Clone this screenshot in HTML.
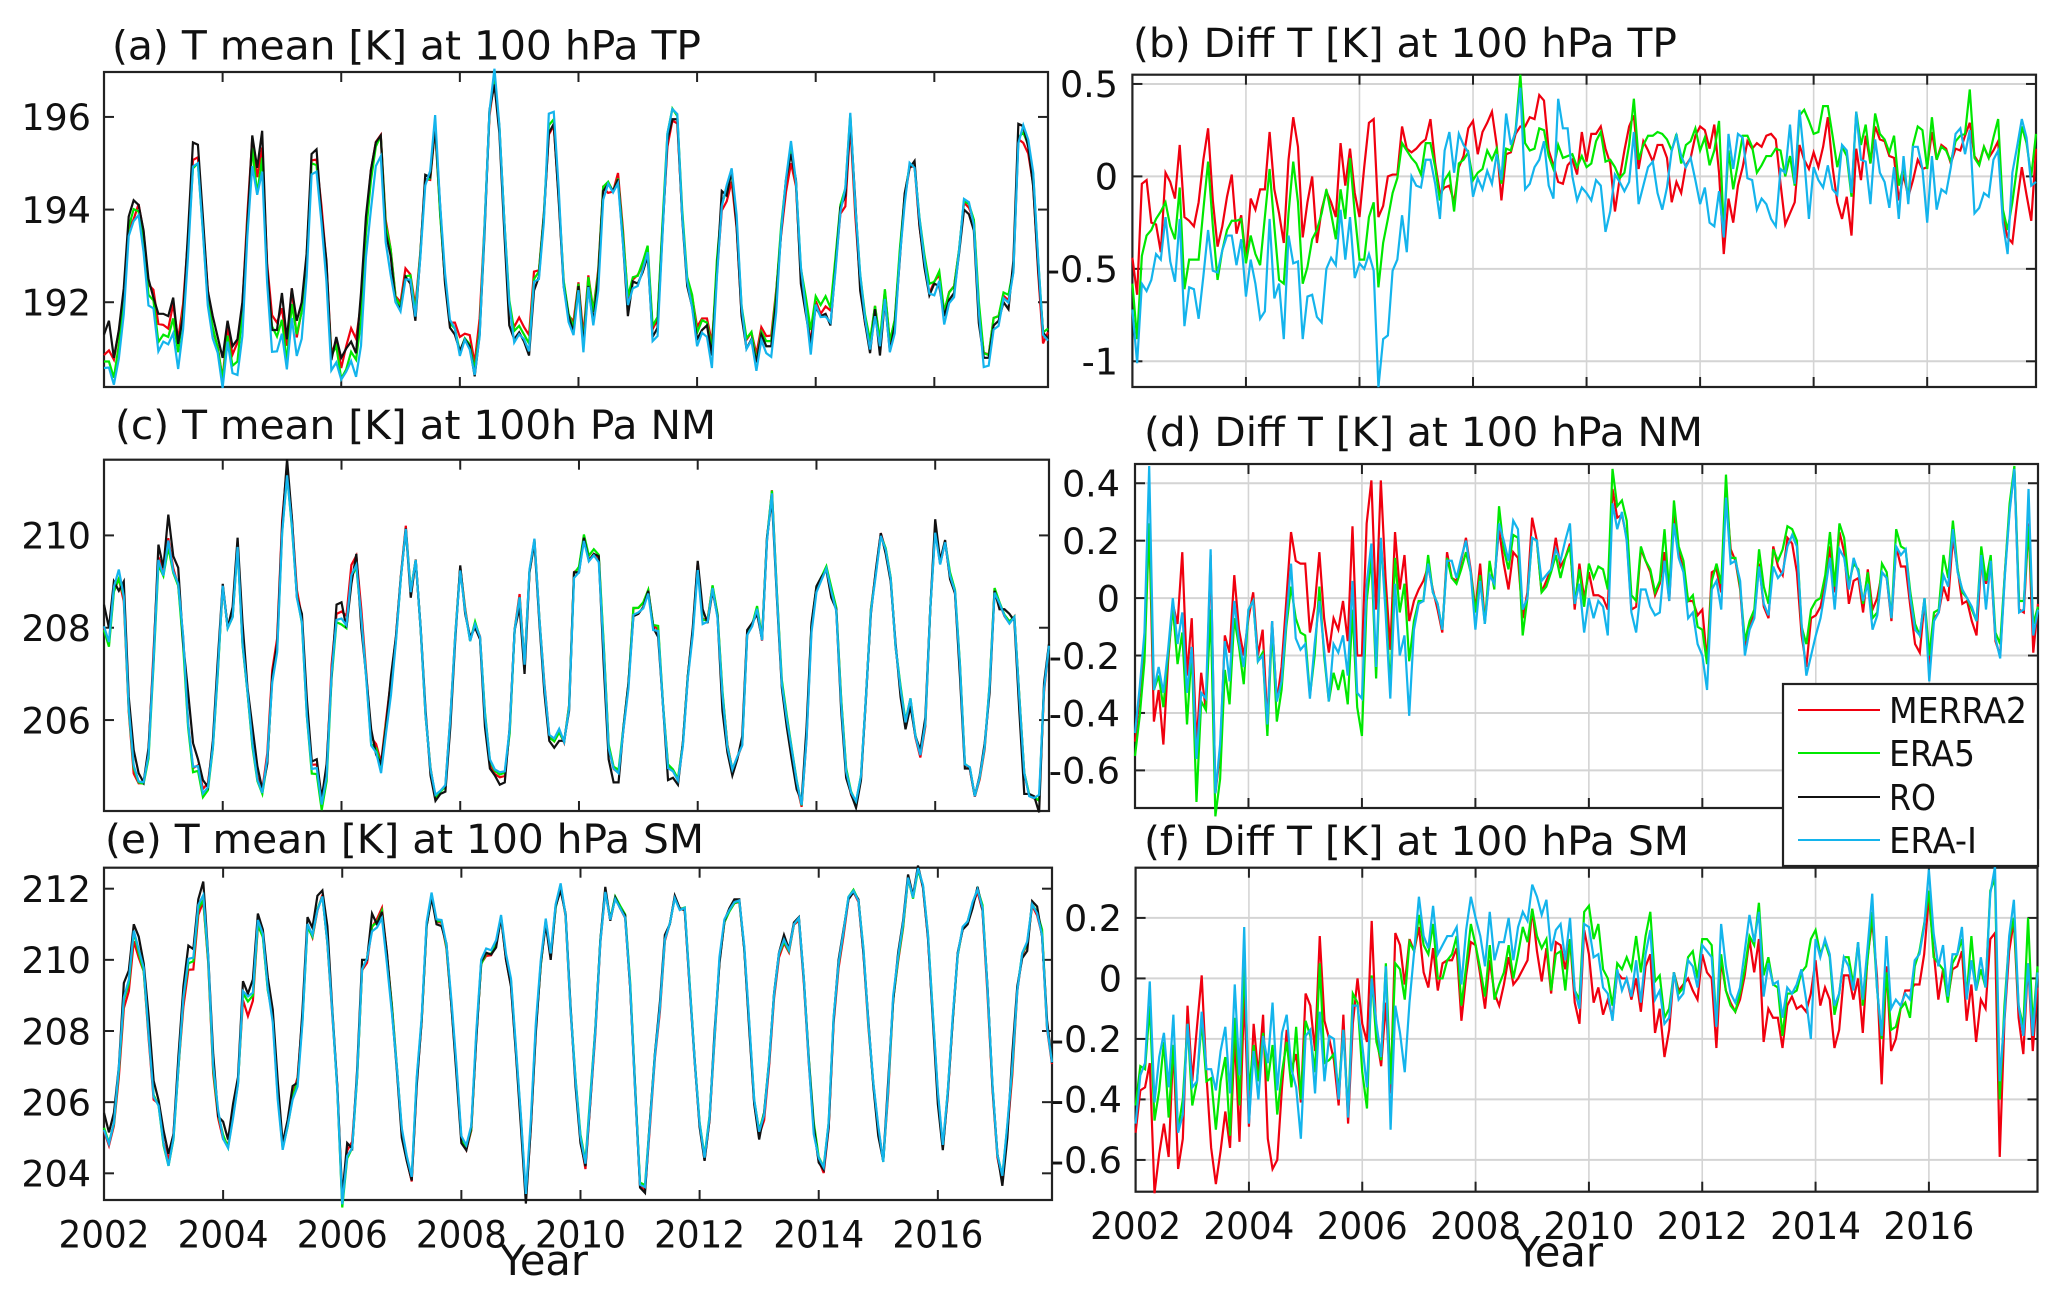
<!DOCTYPE html>
<html lang="en">
<head>
<meta charset="utf-8">
<title>T mean and Diff T at 100 hPa</title>
<style>
html,body{margin:0;padding:0;background:#fff;}
svg{display:block;font-family:"DejaVu Sans","Liberation Sans",sans-serif;fill:#111;}
</style>
</head>
<body>
<svg id="chart" width="2067" height="1300" viewBox="0 0 2067 1300" xmlns="http://www.w3.org/2000/svg"></svg>
<script>
// Data: one row per year, Jan 2002 - Dec 2017.
const tickYears=[2002,2004,2006,2008,2010,2012,2014,2016];
const seriesNames=['MERRA2','ERA5','RO','ERA-I'];

// Panels (a), (c), (e): RO monthly mean temperature [K]
const roTP=[191.3,191.6,190.8,191.4,192.3,193.85,194.2,194.1,193.55,192.5,192.1,191.75,
191.75,191.7,192.1,191.1,191.7,193.5,195.45,195.4,193.85,192.25,191.7,191.25,
190.8,191.6,191.05,191.2,192,193.65,195.6,194.9,195.7,192.75,191.4,191.4,
192.2,191.2,192.3,191.6,192,193.05,195.2,195.3,193.9,192.9,190.75,191.25,
190.8,191,191.15,190.9,192.2,193.85,194.85,195.45,195.6,193.5,193,192,
191.85,192.55,192.4,191.6,193,194.75,194.7,195.8,194.1,192.4,191.45,191.3,
190.95,191.2,191.05,190.4,191.3,193.5,196.15,196.7,195.65,193.5,191.5,191.2,
191.35,191.15,190.85,192.25,192.55,193.85,195.65,195.85,194.2,192.35,191.7,191.35,
192.35,191.05,192.35,191.55,192.55,194.4,194.55,194.4,194.65,193.3,191.7,192.45,
192.4,192.65,193,191.25,191.45,193.5,195.5,195.95,195.95,193.8,192.35,191.9,
191.2,191.4,191.5,190.85,192.6,194.4,194.3,194.85,193.65,191.7,191,191.2,
190.7,191.3,191.05,191.05,192.05,193.5,194.65,195.2,194.65,192.4,191.75,191.1,
191.9,191.7,191.75,191.5,192.75,194.05,194.3,195.95,194.2,192.25,191.55,190.9,
191.85,190.85,192.05,190.95,191.5,192.9,194.35,194.9,195.05,193.65,192.75,192.15,
192.4,192.35,191.7,192.05,192.2,193.05,194,193.9,193.55,191.55,190.8,190.8,
191.5,191.6,192,191.85,192.9,195.85,195.8,195.35,194.5,192.75,191.35,191.2];

const roNM=[208.5,208,209,208.8,209,206.5,205.35,204.85,204.65,205.4,207.3,209.8,
209.3,210.45,209.55,209.3,207.65,206.6,205.5,205.15,204.7,204.55,205.55,207.3,
208.95,208,208.45,209.95,208.1,206.7,205.85,205,204.5,205.05,206.95,207.65,
210.2,211.65,210.35,208.65,208.3,206.45,205.1,205.15,204.3,205.05,206.95,208.5,
208.55,208,208.95,209.6,208,206.95,205.8,205.25,205.05,205.85,206.95,207.8,
209.1,210.15,208.65,209.45,208,206.2,204.8,204.25,204.4,204.45,205.85,207.75,
209.35,208.3,207.8,208,207.75,205.85,204.95,204.8,204.6,204.65,205.85,207.95,
208.45,207,209.2,209.85,208.1,206.6,205.55,205.4,205.55,205.55,206.2,209.2,
209.2,209.95,209.45,209.6,209.55,207.2,205.15,204.65,204.65,205.85,206.8,208.25,
208.3,208.45,208.8,208,207.8,206.3,204.7,204.75,204.6,205.5,206.95,208,
209.45,208.4,208.1,208.8,208.25,206.2,205.3,204.8,205.15,205.65,207.95,208.1,
208.3,207.75,209.95,210.8,208.65,206.7,205.85,205.15,204.5,204.25,205.85,208.1,
208.9,209.1,209.25,208.65,208.4,206.2,204.75,204.4,204.1,204.7,206.5,208.3,
209.25,210.05,209.6,209,207.65,206.5,205.8,206.3,205.65,205.35,206.05,208.4,
210.35,209.45,209.9,209.05,208.75,206.95,204.95,204.95,204.35,204.8,205.5,206.6,
208.8,208.4,208.4,208.3,208.15,206.2,204.4,204.4,204.35,204,206.8,207.65];

const roSM=[205.7,205.15,205.7,207,209.35,209.7,211,210.65,209.9,208.4,206.6,206.05,
205.2,204.55,205.1,207.3,209.25,210.4,210.3,211.7,212.2,210.1,207.35,205.6,
205.45,204.95,205.95,206.7,209.4,209.05,209.45,211.3,210.85,209.5,208.6,206.6,
204.85,205.5,206.45,206.55,208.6,211.2,210.9,211.8,211.95,210.95,208.6,206.45,
203.35,204.85,204.7,206.9,210,210,211.3,211,211.35,210.2,208.6,206.9,
205,204.35,203.8,206.45,208.3,210.95,211.75,211,210.95,210.45,208.7,206.8,
204.85,204.65,205.3,207.75,209.95,210.2,210.15,210.35,211.2,210,209.25,207.35,
205.3,203.15,205.3,207.95,209.9,211,210,211.5,211.95,211.3,208.7,206.45,
204.85,204.2,206.05,208.05,210.55,212.05,211.1,211.75,211.45,211.25,209.25,206.45,
203.6,203.45,205.5,207.35,208.8,210.7,211,211.8,211.45,211.4,209.25,207.2,
205.3,204.35,205.5,207.95,209.9,211.1,211.45,211.7,211.7,210.3,208.05,205.95,
204.95,205.7,207.1,209.05,210.2,210.7,210.3,211.05,211.2,209.45,207.2,205.3,
204.3,204.1,205.3,208.3,210,210.85,211.7,211.9,211.7,210.2,208.3,206.45,
205.05,204.35,206.6,208.85,210.2,211.1,212.4,211.8,212.65,212.05,210.65,208.3,
205.95,204.65,206.25,208.3,210.2,210.85,211,211.45,212.05,211.4,209.25,206.45,
204.55,203.65,205,207.35,209.25,210.05,210.25,211.65,211.5,210.65,208.3,207.1];

// Panels (b), (d), (f): reanalysis minus RO [K]. The reanalysis lines in (a), (c), (e) are RO + these differences.
const merra2DiffTP=[-.44,-.64,-.04,-.02,-.25,-.26,-.41,.02,-.03,-.12,.17,-.22,
-.24,-.27,-.14,.09,.26,-.13,-.38,-.27,-.11,.01,-.31,-.21,
-.45,-.12,-.18,-.07,-.07,.24,-.07,-.2,-.36,.09,.32,.16,
-.33,-.14,0,-.36,-.18,-.08,-.14,-.22,.18,-.05,.15,-.09,
-.22,.05,.29,.31,-.22,-.16,0,.01,.01,.27,.15,.13,
.15,.18,.2,.31,.07,-.09,-.06,-.05,-.14,.05,.11,.26,
.3,.12,.24,.29,.35,.17,-.13,.12,.13,.23,.27,.27,
.32,.31,.44,.41,.14,.06,-.03,-.04,.06,.09,.01,.24,
.08,.23,.23,.27,.15,.07,-.19,-.01,.14,.27,.33,.04,
.19,.14,.08,.17,.17,.1,-.14,-.03,-.09,.06,.1,.22,
.27,.25,.15,.28,.02,-.42,-.12,-.25,-.05,.05,.19,.15,
.18,.16,.22,.23,.2,-.04,-.26,-.2,-.14,.17,.09,.04,
.13,.05,.16,.32,.05,-.14,-.23,-.11,-.32,.15,-.02,.22,
.07,.27,.2,.19,.11,.1,-.13,.01,-.11,-.02,.09,.04,
.05,.24,.09,.17,.15,.07,.15,.14,.22,.29,.11,.07,
.16,.1,.14,.19,-.23,-.33,-.36,-.14,.05,-.1,-.24,.15];

const era5DiffTP=[-.58,-.88,-.43,-.32,-.29,-.23,-.19,-.14,-.27,-.34,-.06,-.61,
-.45,-.45,-.45,-.18,.08,-.27,-.56,-.4,-.29,-.24,-.24,-.23,
-.47,-.32,-.42,-.48,-.22,.04,-.27,-.56,-.58,-.2,.08,-.14,
-.58,-.49,-.34,-.29,-.2,-.07,-.2,-.34,-.07,-.23,.1,-.2,
-.45,-.45,-.22,-.14,-.6,-.36,-.23,-.09,-.01,.18,.14,.1,
.07,.01,.18,.18,.05,-.13,-.02,.02,-.19,.07,.09,.13,
-.02,.02,.04,.14,.09,.15,-.04,.15,.14,.25,.55,.18,
.14,.15,.26,.25,.11,.04,.17,.1,.11,.12,.05,.11,
.05,.07,.19,.24,.08,.09,.05,-.01,.02,.17,.42,.09,
.17,.22,.22,.24,.23,.2,.14,.23,.07,.17,.19,.26,
.14,.21,.06,.14,.3,-.29,.14,-.07,.07,.22,.22,.16,
.02,.06,.11,.11,.15,.14,0,.11,-.05,.33,.36,.3,
.23,.24,.38,.38,.22,.05,.16,.11,-.11,.35,.17,.28,
.07,.34,.23,.2,.13,.22,-.05,.05,-.12,.17,.27,.25,
.04,.32,.09,.16,.14,.08,.19,.22,.23,.47,.1,.06,
.16,.1,.21,.31,-.18,-.29,-.14,.05,.27,.18,0,.23];

const eraIDiffTP=[-.72,-1.01,-.58,-.62,-.56,-.42,-.45,-.22,-.46,-.57,-.23,-.81,
-.6,-.61,-.77,-.54,-.29,-.51,-.52,-.4,-.32,-.32,-.48,-.34,
-.65,-.45,-.58,-.77,-.73,-.23,-.66,-.58,-.88,-.32,-.47,-.46,
-.88,-.65,-.64,-.76,-.79,-.5,-.44,-.48,-.18,-.45,-.22,-.55,
-.47,-.5,-.42,-.51,-1.14,-.88,-.86,-.51,-.45,-.21,-.41,0,
-.05,-.06,.09,.09,-.04,-.23,.14,.24,.02,.23,.17,.13,
-.11,-.01,-.07,.03,-.04,.12,-.02,.34,.17,.24,.48,-.07,
-.04,.05,.09,.19,-.05,-.12,.42,.26,.26,0,-.13,-.06,
-.09,-.13,-.02,-.05,-.3,-.19,.01,-.03,-.08,-.03,.24,-.15,
-.05,.05,.08,-.09,-.18,-.06,.14,.22,.11,.05,.1,-.02,
-.15,-.06,-.25,-.27,-.08,-.33,.23,.04,.23,.21,-.01,-.02,
-.18,-.12,-.15,-.23,-.27,.04,.02,.28,-.04,.36,.1,-.23,
.05,-.02,-.06,.06,-.07,-.1,.17,.14,-.09,.35,.09,.08,
-.15,.2,.02,-.03,-.17,.05,-.23,.11,-.15,.16,.16,.04,
-.25,.11,-.18,-.07,-.09,.05,.23,.26,.12,.25,-.2,-.17,
-.09,-.11,.09,.14,-.25,-.42,.02,.16,.31,.21,-.05,-.03];

const merra2DiffNM=[-.5,-.33,-.17,.26,-.43,-.32,-.51,-.22,-.02,-.09,.16,-.27,
-.07,-.51,-.26,-.39,.15,-.68,-.54,-.13,-.19,.08,-.11,-.2,
-.07,.02,-.2,-.11,-.43,-.08,-.36,-.24,-.01,.23,.13,.12,
.12,-.12,-.03,.16,-.07,-.19,-.07,-.11,-.01,-.15,.25,-.2,
-.2,.26,.41,-.04,.41,.07,-.18,.23,.03,.15,-.08,-.01,
.03,.06,.11,.03,-.04,-.12,.16,.07,.06,.13,.21,.1,
-.04,.12,-.08,.08,.06,.24,.12,.03,.16,.14,-.07,.02,
.28,.2,.02,.06,.1,.21,.11,.14,.19,-.04,.12,0,
.09,.01,.01,0,-.04,.38,.28,.29,.21,-.04,-.03,.17,
.13,.09,.01,.05,.16,-.01,.3,.16,.1,-.01,-.01,-.06,
-.04,-.22,.09,.1,.02,.37,.17,.13,.03,-.18,-.09,-.06,
.12,-.03,-.07,.18,.11,.08,.21,.19,.09,-.13,-.24,-.07,
-.06,-.03,.05,.18,.02,.23,.16,-.02,.06,.07,-.05,.1,
-.04,0,.09,.07,-.08,.18,.11,.11,-.03,-.16,-.19,-.01,
-.24,-.07,-.05,.04,-.01,.21,.1,-.02,-.01,-.08,-.13,.13,
.05,.13,-.15,-.2,.09,.31,.45,-.04,-.05,.26,-.19,-.02];

const era5DiffNM=[-.55,-.41,-.22,.26,-.32,-.27,-.38,-.2,-.03,-.23,-.12,-.44,
-.18,-.71,-.36,-.39,-.04,-.76,-.63,-.25,-.37,-.07,-.17,-.3,
-.04,-.01,-.22,-.19,-.48,-.1,-.43,-.32,-.1,.04,-.07,-.12,
-.13,-.34,-.2,.04,-.2,-.36,-.26,-.32,-.25,-.37,-.04,-.38,
-.48,-.01,.14,-.28,.19,-.01,-.32,.14,-.05,.05,-.22,-.08,
-.01,-.01,.15,.02,-.02,-.11,.14,.07,.05,.1,.16,.09,
-.05,.08,-.09,.13,.03,.32,.17,.1,.22,.21,-.13,0,
.21,.2,.02,.04,.09,.15,.07,.14,.18,-.02,.1,-.03,
.12,.07,.11,.1,.03,.45,.32,.34,.27,.01,-.01,.18,
.13,.1,.02,.06,.24,.02,.34,.18,.13,-.01,.01,-.1,
-.11,-.23,.06,.12,.05,.43,.14,.14,.04,-.15,-.08,-.04,
.17,.04,-.02,.17,.13,.17,.25,.24,.2,-.1,-.16,-.04,
-.01,0,.08,.23,.04,.26,.21,.05,.12,.1,-.02,.09,
-.07,-.05,.12,.09,-.07,.24,.18,.17,.02,-.09,-.13,0,
-.2,-.05,-.04,.15,.07,.27,.1,.02,0,-.04,-.08,.18,
.06,.15,-.12,-.16,.09,.33,.46,-.01,-.01,.25,-.09,-.03];

const eraIDiffNM=[-.47,-.31,-.12,.46,-.32,-.24,-.33,-.18,0,-.16,-.05,-.33,
-.17,-.56,-.33,-.35,.17,-.68,-.51,-.15,-.29,-.01,-.15,-.24,
-.04,-.01,-.22,-.2,-.44,-.08,-.36,-.29,-.08,.12,-.14,-.18,
-.16,-.35,-.16,-.01,-.18,-.36,-.16,-.19,-.13,-.27,.06,-.33,
-.35,.05,.19,-.24,.21,-.05,-.35,.05,-.2,-.13,-.41,-.11,
-.02,-.01,.12,.02,-.02,-.11,.13,.13,.07,.14,.2,.09,
-.11,.06,-.09,.08,.05,.26,.2,.13,.27,.24,-.04,0,
.21,.2,.06,.08,.1,.17,.13,.2,.26,-.02,.05,-.12,
0,-.07,-.01,-.03,-.13,.33,.24,.3,.2,-.05,-.12,.03,
.03,-.03,-.06,-.05,.13,-.01,.26,.14,.09,-.07,-.05,-.16,
-.2,-.32,.03,.06,-.04,.35,.12,.13,.06,-.2,-.11,-.07,
.11,-.02,-.06,.11,.07,.09,.18,.22,.18,-.09,-.27,-.2,
-.13,-.07,.03,.14,-.04,.17,.14,.03,.14,.09,-.01,.05,
-.11,-.06,.09,.07,-.07,.18,.15,.17,0,-.11,-.13,0,
-.29,-.08,-.05,.08,.04,.24,.09,.03,0,-.03,-.08,.15,
-.04,.13,-.14,-.21,.08,.3,.45,-.05,-.04,.38,-.13,-.04];

const merra2DiffSM=[-.51,-.37,-.36,-.28,-.71,-.58,-.48,-.59,-.22,-.63,-.53,-.09,
-.34,-.16,.01,-.32,-.56,-.68,-.57,-.44,-.56,-.19,-.54,-.05,
-.49,-.15,-.32,-.12,-.53,-.63,-.6,-.36,-.17,-.3,-.25,-.41,
-.05,-.09,-.24,.14,-.14,-.2,-.27,-.42,-.12,-.48,-.15,0,
-.15,-.21,.19,-.19,-.29,-.08,-.38,.15,.11,-.02,.13,.09,
.17,.02,-.03,.1,-.04,.05,.06,.06,.1,-.14,.01,.12,
.11,.01,-.1,.06,-.05,-.09,-.02,.07,-.02,0,.03,.06,
.23,.09,-.01,.1,-.05,.12,.11,.03,.13,-.08,-.15,.16,
.08,-.08,-.03,-.12,-.07,-.13,.02,0,0,-.07,0,-.11,
.04,.08,-.18,-.1,-.26,-.17,.02,-.04,-.02,0,-.04,-.07,
.08,.02,0,-.23,.06,-.04,-.08,-.11,-.07,.01,.13,.02,
.13,-.21,-.1,-.13,-.13,-.23,-.09,-.06,-.1,-.09,-.11,-.05,
.06,-.09,-.03,-.07,-.23,-.17,.01,.01,-.07,0,-.18,.07,
.19,.01,-.35,.04,-.24,-.2,-.1,-.04,-.04,-.02,-.02,.08,
.27,.09,-.07,.03,-.07,.03,.04,.09,-.14,-.02,-.21,-.07,
-.1,.13,.15,-.59,-.14,.09,.19,-.13,-.25,.05,-.24,-.03];

const era5DiffSM=[-.42,-.29,-.3,-.09,-.47,-.37,-.21,-.46,-.22,-.5,-.4,-.15,
-.42,-.34,-.14,-.34,-.33,-.5,-.34,-.26,-.52,-.13,-.42,.05,
-.37,-.22,-.34,-.18,-.34,-.22,-.45,-.31,-.21,-.36,-.16,-.4,
-.14,-.19,-.31,.05,-.28,-.27,-.25,-.37,-.17,-.45,-.05,-.08,
-.31,-.43,.01,-.21,-.27,.05,-.35,.05,.03,-.07,.12,.09,
.21,.11,.08,.18,0,0,.06,.08,.14,-.09,.04,.18,
.11,.03,-.06,.11,-.07,-.02,.02,.11,0,.08,.17,.12,
.23,.14,.1,.13,-.04,.08,.09,-.04,.13,-.04,-.07,.22,
.24,.13,.18,.03,0,-.09,.05,.03,.07,.03,.14,.02,
.14,.22,-.01,.01,-.13,-.1,.02,-.05,-.03,.07,.09,0,
.13,.13,.11,-.15,.08,-.04,-.09,-.11,-.05,.03,.14,.11,
.25,.01,.07,-.02,-.03,-.19,-.05,-.05,-.04,.02,.04,.13,
.16,.08,.12,.07,-.12,-.05,.07,.07,-.02,.12,-.09,.06,
.22,-.03,-.2,.02,-.17,-.16,-.1,-.08,-.13,.04,.09,.18,
.29,.07,.05,.03,-.08,.05,.08,.13,-.06,.14,-.04,.03,
-.03,.29,.33,-.4,-.09,.13,.2,-.09,-.16,.2,-.16,.04];

const eraIDiffSM=[-.48,-.32,-.28,-.01,-.41,-.26,-.18,-.36,-.12,-.51,-.45,-.15,
-.36,-.34,-.11,-.3,-.3,-.37,-.24,-.16,-.38,-.02,-.32,.17,
-.48,-.24,-.4,-.19,-.28,-.08,-.37,-.18,-.12,-.3,-.36,-.53,
-.19,-.17,-.38,-.11,-.34,-.19,-.2,-.4,-.17,-.46,-.09,-.09,
-.22,-.36,0,-.15,-.26,.04,-.5,-.09,-.18,-.31,-.08,.09,
.27,.14,.1,.24,.08,.11,.14,.14,.17,-.02,.16,.27,
.2,.14,.04,.22,.06,.12,.12,.2,.06,.17,.22,.19,
.31,.27,.21,.26,.09,.16,.18,.06,.2,-.04,-.1,.18,
.17,.07,.08,-.03,-.05,-.14,.03,-.04,0,-.06,.06,-.08,
.08,.16,-.07,-.04,-.15,-.13,.02,-.07,-.05,.06,.04,-.03,
.11,.09,.07,-.16,.18,.04,-.05,-.08,-.03,.09,.21,.12,
.22,-.06,.05,-.02,-.01,-.13,-.03,-.05,-.02,.03,-.07,-.2,
.13,.07,.13,.08,-.09,-.05,.07,.04,-.04,.12,-.07,.1,
.28,-.03,-.19,.14,-.1,-.07,-.09,-.05,-.07,.06,.08,.17,
.36,.15,.04,.11,-.06,.08,.08,.17,-.07,.06,-.04,.07,
-.03,.28,.37,-.34,-.13,.14,.26,-.09,-.19,.05,-.19,.02];

// Y tick values and printed labels
const yTicksTP=[192,194,196];
const yLabelsTP=['192','194','196'];
const yTicksNM=[206,208,210];
const yLabelsNM=['206','208','210'];
const yTicksSM=[204,206,208,210,212];
const yLabelsSM=['204','206','208','210','212'];
const yTicksDiffTP=[-1,-.5,0,.5];
const yLabelsDiffTP=['-1','-0.5','0','0.5'];
const yTicksDiffNM=[-.6,-.4,-.2,0,.2,.4];
const yLabelsDiffNM=['-0.6','-0.4','-0.2','0','0.2','0.4'];
const yTicksDiffSM=[-.6,-.4,-.2,0,.2];
const yLabelsDiffSM=['-0.6','-0.4','-0.2','0','0.2'];

// Layout and styling
const NS='http://www.w3.org/2000/svg';
const svg=document.getElementById('chart');
const COLORS={MERRA2:'#f0000f','ERA5':'#00e800','RO':'#111111','ERA-I':'#14b4ec'};
const X_END=2002+191/12;

function add(parent,tag){
  const el=document.createElementNS(NS,tag);
  parent.appendChild(el);
  return el;
}
function plus(a,b){
  return a.map(function(v,i){return v+b[i];});
}
function linear(d0,d1,r0,r1){
  return function(v){return r0+(v-d0)*(r1-r0)/(d1-d0);};
}
function pathFrom(values,xs,ys){
  return values.map(function(v,i){
    return (i?'L':'M')+xs(2002+i/12).toFixed(2)+' '+ys(v).toFixed(2);
  }).join('');
}

const panels=[
 {id:'a',title:'(a) T mean [K] at 100 hPa TP',tx:112,tw:589,ty:59.5,l:104,r:1048,t:72,b:387,y0:190.17,y1:196.97,ticks:yTicksTP,labels:yLabelsTP,labelX:91,
  series:[['MERRA2',plus(roTP,merra2DiffTP)],['ERA5',plus(roTP,era5DiffTP)],['RO',roTP],['ERA-I',plus(roTP,eraIDiffTP)]]},
 {id:'b',title:'(b) Diff T [K] at 100 hPa TP',tx:1133,tw:544,ty:57,l:1132.4,r:2036,t:74.7,b:387,y0:-1.139,y1:.55,ticks:yTicksDiffTP,labels:yLabelsDiffTP,labelX:1118,grid:true,
  series:[['MERRA2',merra2DiffTP],['ERA5',era5DiffTP],['ERA-I',eraIDiffTP]]},
 {id:'c',title:'(c) T mean [K] at 100h Pa NM',tx:115,tw:601,ty:439,l:104,r:1049,t:459.7,b:811,y0:204.03,y1:211.64,ticks:yTicksNM,labels:yLabelsNM,labelX:91,
  series:[['MERRA2',plus(roNM,merra2DiffNM)],['ERA5',plus(roNM,era5DiffNM)],['RO',roNM],['ERA-I',plus(roNM,eraIDiffNM)]]},
 {id:'d',title:'(d) Diff T [K] at 100 hPa NM',tx:1144,tw:559,ty:446,l:1135,r:2038,t:464,b:808,y0:-.731,y1:.467,ticks:yTicksDiffNM,labels:yLabelsDiffNM,labelX:1120,grid:true,
  series:[['MERRA2',merra2DiffNM],['ERA5',era5DiffNM],['ERA-I',eraIDiffNM]]},
 {id:'e',title:'(e) T mean [K] at 100 hPa SM',tx:105,tw:599,ty:853,l:104,r:1052,t:867.7,b:1200,y0:203.25,y1:212.59,ticks:yTicksSM,labels:yLabelsSM,labelX:91,xLabels:1247.7,yearX:544,yearY:1275,
  series:[['MERRA2',plus(roSM,merra2DiffSM)],['ERA5',plus(roSM,era5DiffSM)],['RO',roSM],['ERA-I',plus(roSM,eraIDiffSM)]]},
 {id:'f',title:'(f) Diff T [K] at 100 hPa SM',tx:1144,tw:545,ty:855,l:1135.6,r:2037.5,t:867.7,b:1191.7,y0:-.705,y1:.366,ticks:yTicksDiffSM,labels:yLabelsDiffSM,labelX:1122,grid:true,xLabels:1239,yearX:1559,yearY:1266.7,
  series:[['MERRA2',merra2DiffSM],['ERA5',era5DiffSM],['ERA-I',eraIDiffSM]]}
];

function line(parent,x1,y1,x2,y2,color,width){
  const el=add(parent,'line');
  el.setAttribute('x1',x1);
  el.setAttribute('y1',y1);
  el.setAttribute('x2',x2);
  el.setAttribute('y2',y2);
  el.setAttribute('stroke',color);
  el.setAttribute('stroke-width',width);
  return el;
}

panels.forEach(function(p){
  const xs=linear(2002,X_END,p.l,p.r);
  const ys=linear(p.y0,p.y1,p.b,p.t);

  const g=add(svg,'g');
  
  

  const title=add(g,'text');
  
  
  title.setAttribute('x',p.tx);
  title.setAttribute('y',p.ty);
  title.setAttribute('font-size','40');
  title.setAttribute('textLength',p.tw);
  title.setAttribute('lengthAdjust','spacingAndGlyphs');
  title.textContent=p.title;

  if(p.grid){
    tickYears.forEach(function(yr){
      if(yr===2002)return;
      const gl=line(g,xs(yr),p.t,xs(yr),p.b,'#d4d4d4',1.6);
      
      
    });
    p.ticks.forEach(function(v){
      const gl=line(g,p.l,ys(v),p.r,ys(v),'#d4d4d4',2);
      
      
    });
  }

  const box=add(g,'rect');
  
  
  box.setAttribute('x',p.l);
  box.setAttribute('y',p.t);
  box.setAttribute('width',p.r-p.l);
  box.setAttribute('height',p.b-p.t);
  box.setAttribute('fill','none');
  box.setAttribute('stroke','#222');
  box.setAttribute('stroke-width','2.2');

  tickYears.forEach(function(yr){
    if(yr===2002)return;
    const tb=line(g,xs(yr),p.b,xs(yr),p.b-10,'#222',2);
    
    
    const tt=line(g,xs(yr),p.t,xs(yr),p.t+10,'#222',2);
    
    
  });

  p.ticks.forEach(function(v,i){
    const tl=line(g,p.l,ys(v),p.l+10,ys(v),'#222',2);
    
    
    const tr=line(g,p.r,ys(v),p.r-10,ys(v),'#222',2);
    
    
    const lab=add(g,'text');
    
    
    lab.setAttribute('x',p.labelX);
    lab.setAttribute('y',ys(v)+13.3);
    lab.setAttribute('font-size','36.5');
    lab.setAttribute('text-anchor','end');
    lab.textContent=p.labels[i];
  });

  p.series.forEach(function(s){
    const path=add(g,'path');
    
    
    path.setAttribute('d',pathFrom(s[1],xs,ys));
    path.setAttribute('fill','none');
    path.setAttribute('stroke',COLORS[s[0]]);
    path.setAttribute('stroke-width','2.2');
    path.setAttribute('stroke-linejoin','miter');
  });

  if(p.xLabels){
    tickYears.forEach(function(yr){
      const lab=add(g,'text');
      
      
      lab.setAttribute('x',xs(yr));
      lab.setAttribute('y',p.xLabels);
      lab.setAttribute('font-size','37');
      lab.setAttribute('text-anchor','middle');
      lab.setAttribute('textLength','91');
      lab.setAttribute('lengthAdjust','spacingAndGlyphs');
      lab.textContent=String(yr);
    });
    const xt=add(g,'text');
    
    
    xt.setAttribute('x',p.yearX);
    xt.setAttribute('y',p.yearY);
    xt.setAttribute('font-size','41.5');
    xt.setAttribute('text-anchor','middle');
    xt.textContent='Year';
  }
});

// Legend
const legend=add(svg,'g');


const legendBox=add(legend,'rect');


legendBox.setAttribute('x','1783');
legendBox.setAttribute('y','684');
legendBox.setAttribute('width','255');
legendBox.setAttribute('height','182');
legendBox.setAttribute('fill','#fff');
legendBox.setAttribute('stroke','#222');
legendBox.setAttribute('stroke-width','2.2');
const legendLineY=[710,753,797,840];
const legendTextWidths=[138,86,47,88];
seriesNames.forEach(function(name,i){
  const sw=line(legend,1798,legendLineY[i],1880,legendLineY[i],COLORS[name],2);
  
  
  const tx=add(legend,'text');
  
  
  tx.setAttribute('x','1889');
  tx.setAttribute('y',legendLineY[i]+13);
  tx.setAttribute('font-size','36');
  tx.setAttribute('textLength',legendTextWidths[i]);
  tx.setAttribute('lengthAdjust','spacingAndGlyphs');
  tx.textContent=name;
});
</script>
</body>
</html>
